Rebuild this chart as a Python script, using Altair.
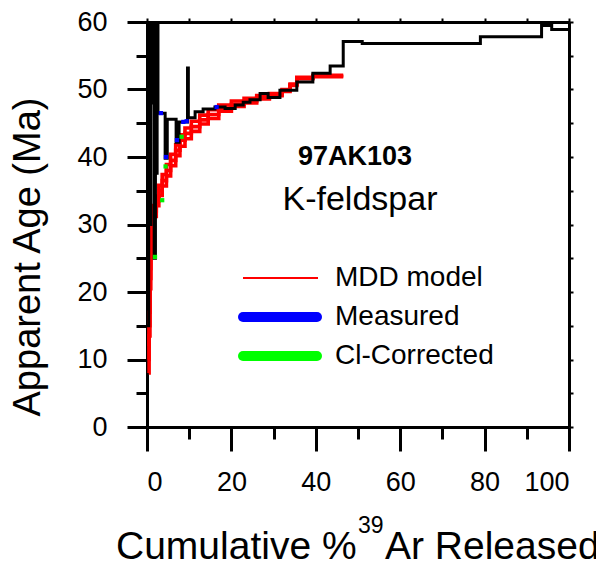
import altair as alt
import pandas as pd

FONT = "Liberation Sans"

# Measured spectrum (black step outline): cumulative % 39Ar at step start, apparent age (Ma)
meas_x = [0, 0.4, 0.6, 0.9, 1.1, 1.4, 1.7, 2.0, 2.4, 2.6, 4.3, 4.8, 6.9, 7.6, 9.6, 9.8,
          11.4, 13.3, 16.1, 18.5, 20.9, 22.8, 24.4, 26.8, 28.7, 31.5, 35.5, 39.3, 43.4,
          46.5, 51.0, 79.0, 93.5, 95.9, 100]
meas_age = [15, 75, 30, 75, 48, 75, 25, 37.6, 75, 46.5, 39.8, 45.6, 42.2, 45.2, 53.2, 45.8,
            46.7, 47.1, 47.4, 47.2, 47.7, 48.1, 48.5, 49.4, 48.8, 49.9, 51.1, 52.4, 53.5,
            57.1, 56.8, 57.8, 59.5, 58.9, 58.9]

# MDD model spectra (red band)
red_x = [0.4, 0.5, 0.7, 0.9, 1.2, 1.6, 2.2, 2.8, 3.6, 4.6, 5.6, 6.8, 7.8, 9.0, 10.5,
         12.5, 14.5, 17.0, 20.0, 23.0, 26.0, 29.0, 32.0, 33.9, 35.5, 39.3, 46.5]
red_a = [10, 15, 22, 27, 30, 32, 33.5, 35, 36.5, 38, 39.5, 41, 42.5, 43.5, 44.5,
         45.5, 46.3, 47.2, 47.8, 48.3, 48.8, 49.2, 49.9, 50.7, 51.7, 52.0, 52.0]
red_b = [12, 17, 23.5, 28, 30.8, 32.8, 34.2, 35.8, 37.4, 38.9, 40.4, 41.8, 43.3, 44.3, 45.3,
         46.2, 47.0, 47.7, 48.3, 48.7, 49.1, 49.4, 50.0, 50.8, 51.8, 52.1, 52.1]
red_c = [8, 13.5, 20.5, 26, 29.3, 31.2, 32.8, 34.3, 35.7, 37.2, 38.7, 40.2, 41.6, 42.7, 43.8,
         44.9, 45.7, 46.8, 47.5, 48.0, 48.6, 49.1, 49.7, 50.6, 51.6, 51.9, 51.9]

# Visible bits of the measured (blue) and Cl-corrected (green) spectra
blue_x = [3.3, 4.5, 7.1, 8.6, 9.4, 16.5]
blue_age = [46.5, 40.0, 42.5, 45.2, 45.3, 47.4]
green_x = [1.9, 3.6, 4.4, 8.2]
green_age = [25.2, 33.6, 38.6, 43.0]

meas_df = pd.DataFrame({"x": meas_x, "age": meas_age})
red_df = pd.concat([
    pd.DataFrame({"x": red_x, "age": red_a, "run": "a"}),
    pd.DataFrame({"x": red_x, "age": red_b, "run": "b"}),
    pd.DataFrame({"x": red_x, "age": red_c, "run": "c"}),
])
blue_df = pd.DataFrame({"x": blue_x, "age": blue_age})
green_df = pd.DataFrame({"x": green_x, "age": green_age})
one = pd.DataFrame({"k": [0]})

xs = alt.Scale(domain=[0, 100], nice=False, zero=False)
ys = alt.Scale(domain=[0, 60], nice=False, zero=False)

x_axis = alt.Axis(
    values=list(range(0, 101, 10)),
    labelExpr="datum.value % 20 === 0 ? datum.label : ''",
    tickSize={"condition": {"test": "datum.value % 20 !== 0", "value": 12}, "value": 24},
    tickWidth=3, domainWidth=3, domainColor="black", tickColor="black",
    labelFont=FONT, labelFontSize=27, labelColor="black", labelPadding=18,
    grid=False, title=None,
)
y_axis = alt.Axis(
    values=list(range(0, 61, 5)),
    labelExpr="datum.value % 10 === 0 ? datum.label : ''",
    tickSize={"condition": {"test": "datum.value % 10 !== 0", "value": 11}, "value": 20},
    tickWidth=3, domainWidth=3, domainColor="black", tickColor="black",
    labelFont=FONT, labelFontSize=27, labelColor="black", labelPadding=20,
    grid=False, title=None,
)
x_top = alt.Axis(orient="top", values=list(range(0, 101, 10)), labels=False, tickSize=4,
                 tickWidth=2, domainWidth=3, domainColor="black", tickColor="black",
                 grid=False, title=None)
y_right = alt.Axis(orient="right", values=list(range(0, 61, 5)), labels=False, tickSize=4,
                   tickWidth=2, domainWidth=3, domainColor="black", tickColor="black",
                   grid=False, title=None)

red = alt.Chart(red_df).mark_line(interpolate="step-after", color="#ff0000",
                                  strokeWidth=3.6, clip=True).encode(
    x=alt.X("x:Q", scale=xs, axis=None),
    y=alt.Y("age:Q", scale=ys, axis=None),
    detail="run:N",
)
black = alt.Chart(meas_df).mark_line(interpolate="step-after", color="black",
                                     strokeWidth=3, clip=True).encode(
    x=alt.X("x:Q", scale=xs, axis=x_axis),
    y=alt.Y("age:Q", scale=ys, axis=y_axis),
)
frame = alt.Chart(meas_df).mark_line(strokeOpacity=0, clip=True).encode(
    x=alt.X("x:Q", scale=xs, axis=x_top),
    y=alt.Y("age:Q", scale=ys, axis=y_right),
)
blue = alt.Chart(blue_df).mark_point(shape="square", filled=True, color="#0000ff",
                                     size=18, opacity=1).encode(
    x=alt.X("x:Q", scale=xs, axis=None),
    y=alt.Y("age:Q", scale=ys, axis=None),
)
green = alt.Chart(green_df).mark_point(shape="square", filled=True, color="#00ee00",
                                       size=18, opacity=1).encode(
    x=alt.X("x:Q", scale=xs, axis=None),
    y=alt.Y("age:Q", scale=ys, axis=None),
)

def txt(s, x, y, size, weight="normal", align="left", angle=0, baseline="middle"):
    kw = dict(font=FONT, fontSize=size, fontWeight=weight, align=align,
              baseline=baseline, color="black")
    if angle:
        kw["angle"] = angle
    return alt.Chart(one).mark_text(**kw).encode(
        x=alt.value(x), y=alt.value(y), text=alt.value(s))

def leg_line(x1, x2, y, color, width, cap="butt"):
    return alt.Chart(one).mark_rule(color=color, strokeWidth=width, strokeCap=cap).encode(
        x=alt.value(x1), x2=alt.value(x2), y=alt.value(y))

layers = [
    red, black, frame, blue, green,
    txt("97AK103", 208, 135, 27, weight="bold", align="center"),
    txt("K-feldspar", 213, 178, 34, align="center"),
    leg_line(96, 171, 256, "#ff0000", 2),
    leg_line(96, 170, 295, "#0000ff", 10, "round"),
    leg_line(96, 170, 334, "#00ff00", 10, "round"),
    txt("MDD model", 188, 256, 28),
    txt("Measured", 188, 295, 28),
    txt("Cl-Corrected", 188, 334, 28),
    txt("Apparent Age (Ma)", -118, 235, 38, align="center", angle=270),
    txt("Cumulative %", -31, 537, 39, baseline="alphabetic"),
    txt("39", 211, 511, 23, baseline="alphabetic"),
    txt("Ar Released", 238, 537, 39, baseline="alphabetic"),
]

chart = alt.layer(*layers).resolve_axis(x="independent", y="independent").properties(
    width=422, height=405,
    autosize=alt.AutoSizeParams(type="none"),
    padding={"left": 147, "top": 22, "right": 27, "bottom": 144},
).configure_view(stroke=None).configure(background="white")

chart.save("out.html", embed_options={"renderer": "svg", "actions": False})
